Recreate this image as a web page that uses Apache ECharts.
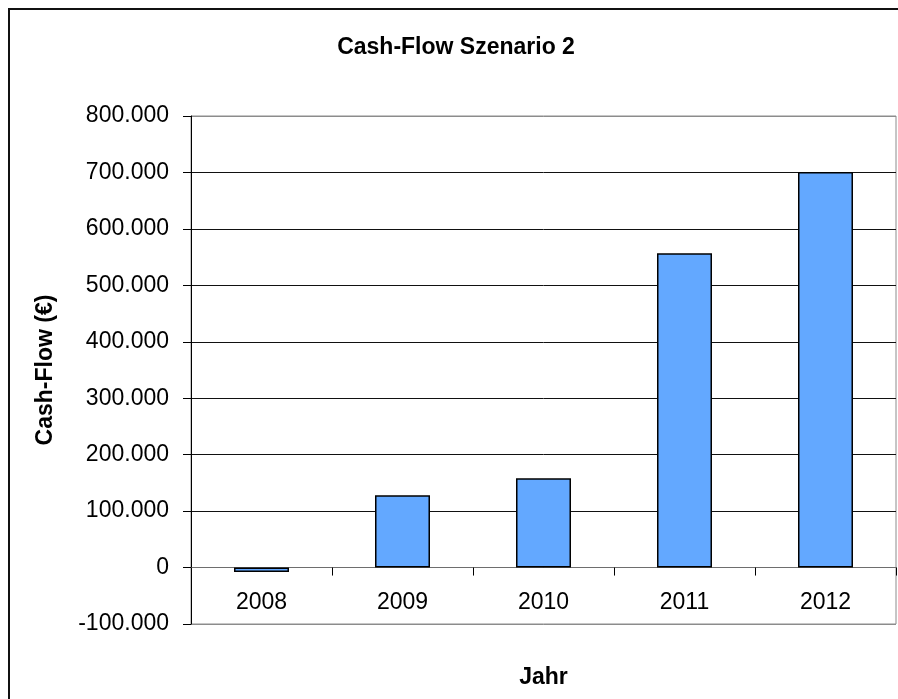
<!DOCTYPE html>
<html>
<head>
<meta charset="utf-8">
<script src="https://cdn.jsdelivr.net/npm/echarts@6/dist/echarts.min.js"></script>
<style>
  html, body { margin: 0; padding: 0; background: #fff; }
  #chart { width: 898px; height: 699px; }
</style>
</head>
<body>
<div id="chart"></div>
<script>
// Yearly cash flow, scenario 2 (EUR)
const years = ['2008', '2009', '2010', '2011', '2012'];
const cashFlow = [-8000, 128000, 158000, 557000, 701000];
const yMin = -100000;
const yMax = 800000;
const yStep = 100000;

const chart = echarts.init(document.getElementById('chart'));
const font = '"Liberation Sans", Arial, sans-serif';

// German number format with dot as thousands separator
function fmt(v) {
  const s = Math.abs(v).toString().replace(/\B(?=(\d{3})+(?!\d))/g, '.');
  return (v < 0 ? '-' : '') + s;
}

// outermost grid lines grey, interior black
const gridColors = [];
for (let v = yMin; v <= yMax; v += yStep) {
  gridColors.push(v === yMin || v === yMax ? '#8c8c8c' : '#111');
}

chart.setOption({
  backgroundColor: '#fff',
  animation: false,
  textStyle: { fontFamily: font },
  title: {
    text: 'Cash-Flow Szenario 2',
    left: 451,
    textAlign: 'center',
    top: 31,
    textStyle: { fontFamily: font, fontSize: 23, fontWeight: 'bold', color: '#000' }
  },
  graphic: [{
    // chart-area frame; right and bottom edges run past the canvas
    type: 'rect',
    shape: { x: 9, y: 9, width: 920, height: 720 },
    style: { fill: null, stroke: '#111', lineWidth: 2 },
    silent: true,
    z: -1
  }],
  grid: {
    left: 191, right: 2, top: 116, bottom: 75,
    containLabel: false,
    outerBoundsMode: 'none',
    show: true, borderColor: '#8c8c8c', borderWidth: 1, backgroundColor: '#fff'
  },
  xAxis: {
    type: 'category',
    data: years,
    name: 'Jahr',
    nameLocation: 'middle',
    nameGap: 42,
    nameTextStyle: { fontFamily: font, fontSize: 23, fontWeight: 'bold', color: '#000' },
    axisLine: { onZero: true, lineStyle: { color: '#6e6e6e', width: 1 } },
    axisTick: { show: true, alignWithLabel: false, length: 8, lineStyle: { color: '#000' } },
    axisLabel: { fontFamily: font, fontSize: 23, color: '#000', margin: -33 }
  },
  yAxis: {
    type: 'value',
    min: yMin,
    max: yMax,
    interval: yStep,
    name: 'Cash-Flow (€)',
    nameLocation: 'middle',
    nameGap: 134,
    nameRotate: 90,
    nameTextStyle: { fontFamily: font, fontSize: 23, fontWeight: 'bold', color: '#000' },
    axisLine: { show: true, lineStyle: { color: '#000', width: 1 } },
    axisTick: { show: true, length: 8, lineStyle: { color: '#000' } },
    axisLabel: { fontFamily: font, fontSize: 23, color: '#000', margin: 22, formatter: fmt },
    splitLine: { show: true, lineStyle: { color: gridColors, width: 1 } }
  },
  series: [{
    type: 'bar',
    data: cashFlow,
    barWidth: '39%',
    itemStyle: { color: '#63a8ff', borderColor: '#000', borderWidth: 1.5 }
  }]
});
</script>
</body>
</html>
